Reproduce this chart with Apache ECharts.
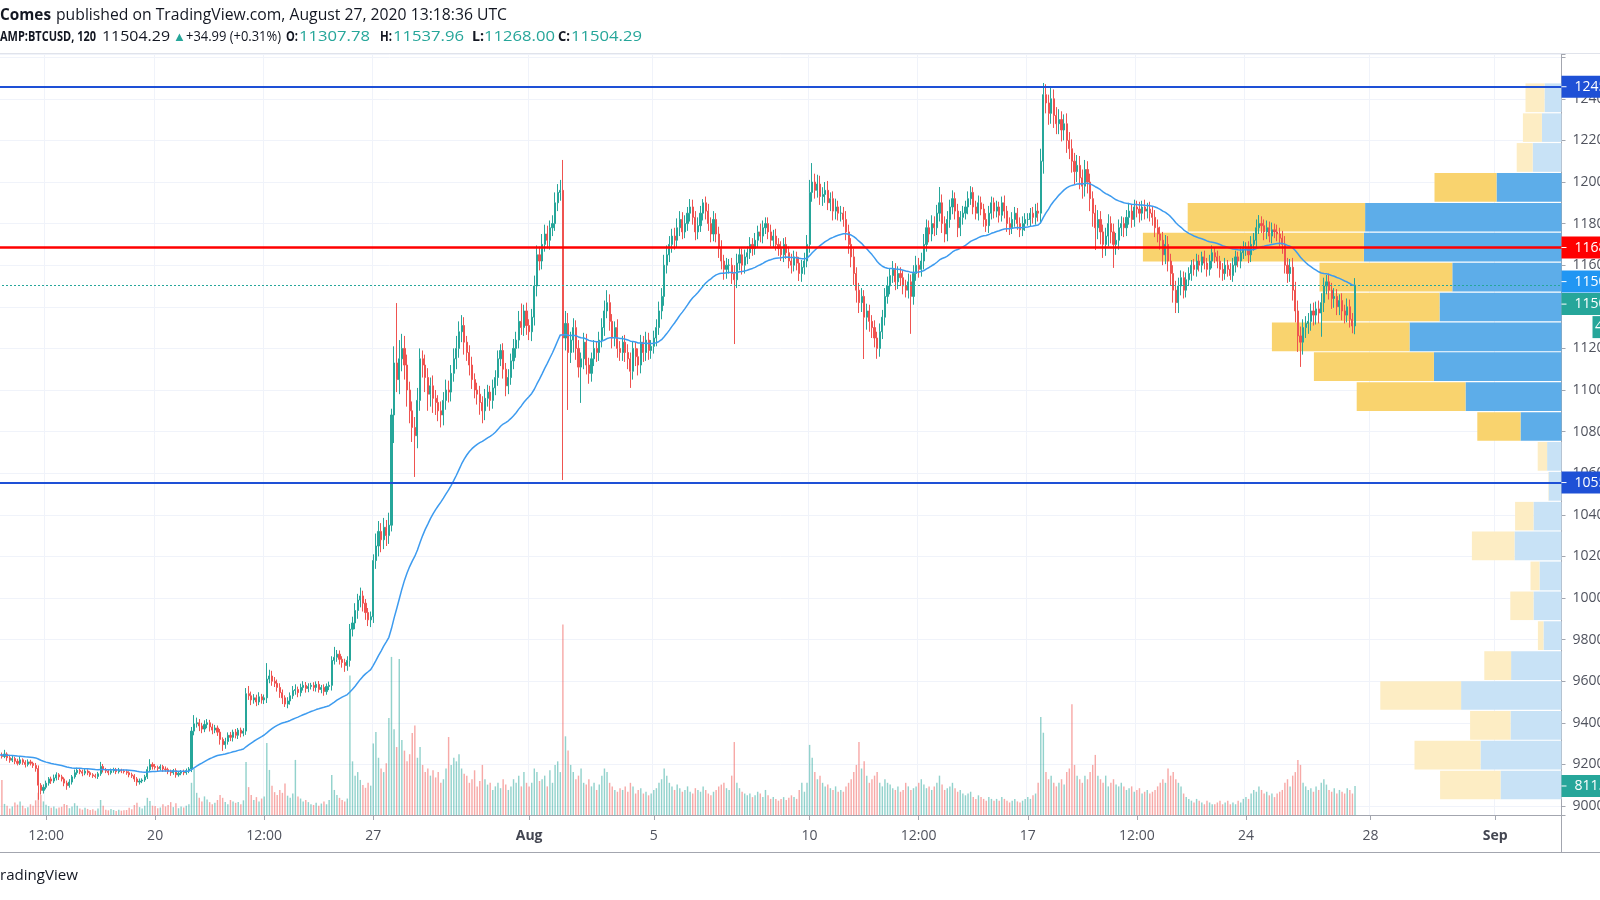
<!DOCTYPE html>
<html><head><meta charset="utf-8">
<script src="https://cdn.jsdelivr.net/npm/echarts@6/dist/echarts.min.js"></script>
<style>html,body{margin:0;padding:0;background:#fff;}#c{width:1600px;height:900px;}</style>
</head><body><div id="c"></div>
<script>
// ---------------- DATA ----------------
const firstOpen = 9240;
const closes = [
9245,9238,9250,9232,9220,9228,9215,9205,9222,9210,9200,9212,
9205,9195,9180,9100,9075,9090,9110,9130,9120,9135,9150,9140,
9130,9110,9098,9115,9140,9160,9172,9165,9158,9168,9160,9150,
9145,9142,9155,9190,9175,9168,9160,9170,9175,9165,9172,9168,
9165,9160,9150,9145,9130,9115,9120,9125,9140,9175,9200,9190,
9185,9180,9190,9178,9175,9165,9160,9170,9150,9158,9165,9160,
9170,9178,9360,9395,9400,9385,9370,9392,9400,9380,9365,9375,
9355,9320,9295,9310,9340,9330,9355,9340,9365,9350,9360,9540,
9530,9510,9520,9500,9525,9510,9520,9610,9625,9600,9590,9570,
9545,9520,9490,9505,9530,9555,9560,9545,9570,9580,9565,9575,
9580,9570,9585,9560,9570,9550,9575,9580,9700,9715,9730,9705,
9690,9675,9700,9850,9880,9940,9990,10010,9975,9930,9895,9910,
10180,10250,10320,10280,10340,10300,10350,10880,11130,11050,11150,11200,
11120,11000,10900,10820,10780,10950,11150,11120,11060,10980,11020,10960,
10940,10900,10880,10950,11000,10990,11080,11150,11200,11280,11310,11230,
11180,11120,11050,11000,10980,10940,10900,10960,10990,10950,11010,11060,
11150,11190,11100,11020,11060,11140,11200,11240,11330,11300,11380,11310,
11280,11350,11500,11650,11620,11700,11750,11720,11780,11800,11900,11950,
11960,11250,11320,11180,11240,11300,11200,11110,11150,11230,11120,11080,
11150,11200,11180,11240,11300,11380,11420,11330,11250,11300,11200,11180,
11230,11180,11150,11090,11200,11160,11120,11230,11180,11240,11190,11210,
11250,11300,11380,11450,11600,11650,11700,11740,11720,11780,11820,11760,
11800,11850,11880,11830,11760,11790,11850,11900,11860,11800,11750,11820,
11750,11680,11620,11580,11600,11600,11560,11530,11610,11650,11600,11640,
11660,11700,11680,11720,11760,11740,11780,11800,11760,11720,11740,11700,
11680,11650,11700,11660,11620,11600,11640,11610,11560,11590,11620,11700,
11950,12000,11960,11990,11930,11940,11960,11900,11920,11860,11880,11850,
11850,11820,11760,11700,11640,11560,11480,11420,11450,11350,11380,11330,
11300,11250,11200,11280,11350,11450,11500,11550,11580,11520,11560,11540,
11500,11480,11520,11450,11560,11600,11580,11620,11700,11780,11750,11800,
11780,11850,11900,11800,11750,11820,11880,11920,11860,11780,11830,11850,
11880,11920,11950,11880,11850,11900,11870,11820,11790,11850,11900,11860,
11880,11840,11900,11860,11800,11780,11820,11850,11800,11770,11800,11820,
11820,11850,11830,11860,11850,12100,12420,12380,12330,12400,12320,12280,
12300,12250,12280,12200,12160,12100,12050,12080,12020,11980,12060,12000,
11920,11850,11780,11820,11760,11700,11740,11800,11760,11700,11720,11780,
11800,11780,11830,11860,11820,11880,11870,11850,11880,11860,11870,11850,
11830,11780,11750,11720,11650,11700,11620,11560,11480,11420,11500,11540,
11480,11530,11560,11600,11580,11620,11600,11640,11610,11580,11620,11660,
11640,11620,11580,11560,11600,11580,11550,11600,11640,11620,11660,11680,
11680,11650,11700,11720,11780,11800,11790,11760,11780,11740,11770,11760,
11750,11730,11700,11600,11560,11590,11480,11380,11260,11230,11300,11320,
11330,11380,11360,11390,11370,11420,11500,11520,11480,11440,11450,11400,
11430,11380,11360,11400,11340,11307.78,11504.29];
// upper wick length above the body, per bar
const wickUp = [
15,12,20,8,10,14,9,12,18,7,10,12,
10,8,12,15,10,14,12,9,11,16,12,8,
10,8,12,14,9,15,12,8,10,12,9,7,
8,10,9,22,12,8,7,10,9,8,11,7,
8,9,7,10,8,9,12,8,10,15,25,10,
12,9,10,8,12,9,10,8,11,9,8,10,
10,9,20,42,25,18,15,20,18,14,16,15,
12,15,10,18,14,16,12,15,10,12,14,27,
37,20,18,15,22,14,16,77,30,25,20,18,
20,15,12,18,16,22,25,14,18,20,16,15,
12,15,14,16,12,15,14,18,20,50,20,18,
15,18,20,25,30,35,30,40,25,20,22,25,
30,60,50,40,45,35,60,30,80,288,90,70,
60,50,40,45,50,60,50,40,50,45,40,50,
40,35,45,40,50,45,40,50,60,50,50,40,
30,35,40,30,35,40,30,45,35,30,40,35,
40,30,35,30,40,35,45,40,50,86,30,40,
30,40,50,45,40,50,45,40,35,40,50,40,
50,146,60,50,40,45,35,40,30,45,40,35,
30,40,35,40,45,50,60,40,35,30,40,35,
30,35,40,30,35,30,40,35,30,40,35,30,
35,40,45,40,50,45,40,35,40,45,40,35,
40,30,38,35,30,40,35,18,30,35,30,40,
30,35,40,30,35,30,35,40,45,35,30,35,
30,35,30,35,30,40,35,30,30,35,30,35,
30,35,30,35,30,35,30,25,30,35,40,45,
60,91,40,45,40,35,40,45,30,35,40,30,
35,30,40,35,30,40,30,35,40,30,35,30,
30,35,30,40,35,40,45,35,40,30,35,30,
35,30,40,35,40,45,35,40,50,40,35,40,
35,40,76,40,35,40,35,40,30,35,30,35,
30,35,30,25,30,35,30,25,30,35,30,25,
30,25,30,35,25,30,35,30,25,30,35,30,
30,25,30,35,40,60,56,50,40,57,45,40,
50,40,45,50,40,45,40,50,45,40,46,40,
40,35,40,45,40,35,40,45,35,40,35,40,
35,30,35,40,30,35,30,35,30,35,30,35,
30,35,40,35,40,45,40,35,40,45,40,35,
30,35,30,25,30,35,30,25,30,25,30,35,
25,30,25,30,35,25,30,35,30,25,30,35,
30,35,40,35,40,41,35,30,35,30,35,30,
35,30,35,40,35,40,45,40,50,45,40,35,
40,35,40,35,40,45,40,33,40,35,40,35,
30,35,30,40,35,30,33.67];
// lower wick length below the body, per bar
const wickDown = [
12,10,8,15,12,9,14,10,8,12,15,10,
10,12,15,70,20,15,10,12,14,10,12,15,
12,15,20,10,12,9,10,12,15,10,12,10,
10,9,12,10,14,10,12,9,10,12,9,10,
9,10,12,10,14,18,12,10,9,10,12,15,
10,12,9,14,10,12,15,10,14,9,10,12,
10,12,15,20,18,25,20,15,18,22,20,15,
18,25,30,20,15,18,20,15,18,20,15,18,
20,25,18,20,15,18,20,25,20,22,18,20,
25,30,14,20,18,15,20,22,18,15,20,18,
15,18,20,15,18,20,15,18,25,20,22,25,
25,30,25,30,35,30,40,35,40,35,30,35,
30,40,50,60,45,50,40,30,135,60,70,60,
70,80,60,70,198,60,50,60,70,80,60,70,
60,50,60,50,45,50,45,40,50,45,50,60,
40,50,45,40,50,59,60,45,40,50,40,35,
40,35,45,50,40,35,40,45,40,35,40,45,
40,45,40,50,45,40,35,40,45,40,35,40,
40,683,60,276,50,60,55,50,172,50,45,50,
40,35,45,40,35,40,35,45,50,40,45,40,
40,45,50,80,40,45,50,40,45,40,45,40,
35,40,35,40,45,40,35,40,45,35,40,35,
30,35,40,35,40,35,30,35,40,35,40,35,
40,45,40,50,45,40,50,309,40,35,45,40,
35,30,35,30,35,30,35,30,35,30,35,30,
35,30,35,30,35,40,30,35,36,40,35,30,
40,45,40,35,40,45,40,35,40,45,40,35,
40,35,40,45,50,55,60,50,45,201,60,50,
50,45,50,40,35,40,35,40,35,40,35,40,
40,35,40,180,40,35,40,35,40,35,40,35,
40,35,40,45,40,35,40,35,40,45,40,35,
30,35,30,35,30,35,30,35,30,35,30,35,
30,35,30,35,40,35,30,35,30,35,30,35,
30,35,30,35,40,50,60,50,55,50,60,50,
50,55,50,60,50,55,60,50,55,60,50,55,
60,65,107,55,60,65,55,50,55,113,50,45,
40,45,40,35,40,35,40,45,35,40,35,40,
40,45,40,45,50,45,50,55,60,50,50,45,
40,35,30,35,30,35,30,35,30,35,30,35,
30,35,40,35,30,35,21,30,35,30,35,30,
35,40,35,30,35,30,35,40,35,30,35,30,
35,40,45,40,45,40,50,55,77,119,60,50,
50,45,50,45,50,114,45,40,45,50,45,40,
40,45,40,35,40,35,39.78];
const volumes = [
420,980,310,260,180,240,350,290,380,260,190,220,
300,260,410,620,560,380,290,250,200,240,180,210,
230,310,280,190,240,330,260,180,150,200,170,140,
160,120,180,420,260,150,130,170,140,110,150,120,
130,140,200,160,280,340,220,180,260,480,390,260,
250,190,210,300,240,280,360,220,330,190,240,210,
260,300,900,1290,620,480,380,520,430,360,300,340,
420,560,480,360,300,420,380,340,360,300,410,1480,
780,560,420,500,380,460,520,2010,1260,820,640,560,
700,620,880,540,480,600,1540,520,460,380,420,360,
300,280,340,260,320,380,300,420,1120,700,560,480,
420,380,460,3900,1500,1100,1200,980,840,760,900,820,
2000,2320,1600,1300,1200,1450,2710,4420,2400,1900,4360,2100,
1800,1500,1700,2290,2500,1600,1900,1400,1200,1300,1100,1250,
1050,1200,900,1000,1300,2180,1400,1600,1500,1700,1300,1150,
1100,900,1000,1250,800,950,1400,1000,850,900,700,800,
900,750,1000,850,700,800,1000,900,1100,800,1200,900,
800,900,1300,1200,950,1000,1100,800,1250,900,1400,1500,
1200,5327,2200,1800,1400,1200,1000,1100,1300,900,850,1000,
800,900,700,850,1100,1300,1200,900,800,700,650,750,
700,800,650,900,800,600,700,750,600,650,550,600,
700,750,900,1000,1300,1100,900,800,700,850,750,650,
700,800,650,600,750,700,650,800,700,600,550,650,
700,800,850,900,750,700,1100,2040,900,750,650,600,
550,600,500,550,650,600,500,700,550,450,500,450,
400,450,500,420,480,550,500,450,700,900,650,900,
1960,1600,1200,1000,1100,900,800,850,750,700,800,650,
700,650,800,900,1000,1200,1400,2040,1300,1500,1100,900,
1000,1100,1200,900,800,1000,900,850,750,700,800,650,
700,900,800,700,750,800,900,1000,850,750,800,700,
800,900,1100,850,700,750,800,900,750,650,700,600,
550,600,650,500,450,550,500,450,400,500,450,400,
450,400,500,450,400,350,400,450,380,350,400,450,
500,450,550,600,900,2740,2300,1200,1000,1100,900,800,
900,1000,850,1200,1300,3100,1400,1100,1000,900,1100,1000,
1200,1400,1680,1100,1000,900,1100,800,900,1000,850,800,
900,800,700,750,800,650,700,750,600,650,700,600,
650,700,800,900,1000,900,1300,1100,1200,1000,900,800,
600,500,450,400,350,450,400,350,300,400,350,300,
300,350,400,300,350,400,300,350,300,400,350,450,
500,450,600,700,650,800,700,600,650,550,600,500,
600,650,700,900,1000,800,1100,1200,1540,1400,900,800,
700,750,650,800,700,900,1000,850,700,650,750,600,
700,650,600,750,700,600,811];

const emaPeriod = 50;
const startTime = Date.UTC(2020, 6, 15, 0, 0);   // first 2h bar
const slotCount = 602;                           // 2h slots shown on the time axis
const xTickTimes = ['2020-07-16T12:00','2020-07-20T00:00','2020-07-23T12:00','2020-07-27T00:00','2020-08-01T00:00','2020-08-05T00:00','2020-08-10T00:00','2020-08-13T12:00','2020-08-17T00:00','2020-08-20T12:00','2020-08-24T00:00','2020-08-28T00:00','2020-09-01T00:00'];
const xTickLabels = ['12:00','20','12:00','27','Aug','5','10','12:00','17','12:00','24','28','Sep'];
const monthLabels = ['Aug','Sep'];
const priceLabelMax = 12400;

const levelTop = 12458, levelRed = 11685, levelBottom = 10555;
const countdownText = '41:24';
const lastVolumeText = '811.37';

// visible volume profile rows (top to bottom)
const profileTop = 12477;
const profileLows = [12333,12190,12046,11902,11759,11615,11471,11328,11184,11040,10896,10753,10609,10465,10322,10178,10034,9891,9747,9603,9460,9316,9172,9029];
const profileUp   = [425,490,720,1625,4910,4940,2730,3050,3800,3190,2400,1025,360,320,700,1175,550,700,450,1260,2510,1275,2025,1525];
const profileDown = [475,475,400,1550,4435,5525,3320,2950,3440,3000,2720,1080,235,10,460,1065,225,580,140,670,2020,1010,1650,1510];
const profileValueArea = [0,0,0,1,1,1,1,1,1,1,1,1,0,0,0,0,0,0,0,0,0,0,0,0];

// header texts
const headerLine1Bold = 'Comes';
const headerLine1 = 'published on TradingView.com, August 27, 2020 13:18:36 UTC';
const symbolText = 'AMP:BTCUSD, 120';
const lastPriceText = '11504.29';
const changeText = '+34.99 (+0.31%)';
const ohlcKeys = ['O:', 'H:', 'L:', 'C:'];
const ohlcValues = ['11307.78', '11537.96', '11268.00', '11504.29'];

// ---------------- BUILD ----------------
const categories = [];
for (let i = 0; i < slotCount; i++) categories.push(new Date(startTime + i * 7200000).toISOString().slice(0, 16));
const tickIndex = {};
xTickTimes.forEach((t, k) => { tickIndex[categories.indexOf(t)] = xTickLabels[k]; });

const ohlc = closes.map((c, i) => {
  const o = i === 0 ? firstOpen : closes[i - 1];
  return [o, c, Math.min(o, c) - wickDown[i], Math.max(o, c) + wickUp[i]];
});
// exponential moving average of the closes
const ema = [];
{
  const k = 2 / (emaPeriod + 1);
  let e = closes[0];
  closes.forEach((c, i) => { e = i === 0 ? c : c * k + e * (1 - k); ema.push(+e.toFixed(2)); });
}
const profileData = profileLows.map((lo, k) => [lo, k === 0 ? profileTop : profileLows[k - 1], profileUp[k], profileDown[k], profileValueArea[k]]);

const UP = '#26A69A', DOWN = '#EF5350';
const FONT = '"Open Sans", "Noto Sans", sans-serif';
const GRID_TOP = 54, GRID_BOTTOM_Y = 815, RIGHT = 38.5;
const PMIN = 8956.7, PMAX = 12615.4;

const chart = echarts.init(document.getElementById('c'), null, { renderer: 'canvas' });
const isTick = (idx) => tickIndex[idx] !== undefined;

chart.setOption({
  animation: false,
  backgroundColor: '#ffffff',
  grid: [
    { left: -2, right: RIGHT, top: GRID_TOP, bottom: 900 - GRID_BOTTOM_Y, containLabel: false, outerBoundsMode: 'none' },
    { left: 0, right: RIGHT, top: GRID_TOP, bottom: 900 - GRID_BOTTOM_Y, containLabel: false, outerBoundsMode: 'none' }
  ],
  xAxis: [
    { type: 'category', gridIndex: 0, data: categories, boundaryGap: true,
      axisLine: { lineStyle: { color: '#A3A6AF', width: 1 } },
      axisTick: { show: true, alignWithLabel: true, interval: (i) => isTick(i), length: 5, lineStyle: { color: '#A3A6AF' } },
      axisLabel: { interval: (i) => isTick(i), margin: 14, fontSize: 14, fontFamily: FONT, color: '#50535E', hideOverlap: false,
        formatter: (v, i) => { const t = tickIndex[i]; if (t === undefined) return ''; return monthLabels.includes(t) ? '{m|' + t + '}' : t; },
        rich: { m: { fontWeight: 'bold', fontSize: 14, fontFamily: FONT, color: '#434651' } } },
      splitLine: { show: true, interval: (i) => isTick(i), lineStyle: { color: '#F0F3FA', width: 1 } }
    },
    { type: 'value', gridIndex: 1, inverse: true, min: 0, max: (1600 - RIGHT) * 25, show: false }
  ],
  yAxis: [
    { type: 'value', gridIndex: 0, position: 'right', min: PMIN, max: PMAX, splitNumber: 18, scale: true,
      axisLine: { show: true, lineStyle: { color: '#A3A6AF' } },
      axisTick: { show: true, length: 4, lineStyle: { color: '#A3A6AF' } },
      axisLabel: { margin: 11, fontSize: 14, fontFamily: FONT, color: '#50535E', hideOverlap: false,
        formatter: (v) => (Math.abs(v % 200) < 1e-6 && v <= priceLabelMax ? String(v) : '') },
      splitLine: { show: true, lineStyle: { color: '#F0F3FA', width: 1 } }
    },
    { type: 'value', gridIndex: 0, min: 0, max: (GRID_BOTTOM_Y - GRID_TOP) * 27.96, show: false },
    { type: 'value', gridIndex: 1, min: PMIN, max: PMAX, show: false }
  ],
  series: [
    { type: 'custom', name: 'profile', xAxisIndex: 1, yAxisIndex: 2, z: 1, silent: true,
      data: profileData,
      renderItem: function (params, api) {
        const lo = api.value(0), hi = api.value(1), up = api.value(2), dn = api.value(3), va = api.value(4);
        const a = api.coord([0, hi]), b = api.coord([up, lo]), c = api.coord([up + dn, lo]);
        const yT = a[1] + 0.6, yB = b[1] - 0.6;
        const blue = va ? '#5DADE9' : '#C8E2F6', yellow = va ? '#F9D36E' : '#FDEDC4';
        return { type: 'group', children: [
          { type: 'rect', shape: { x: b[0], y: yT, width: a[0] - b[0], height: yB - yT }, style: { fill: blue } },
          { type: 'rect', shape: { x: c[0], y: yT, width: b[0] - c[0], height: yB - yT }, style: { fill: yellow } }
        ] };
      }
    },
    { type: 'bar', name: 'volume', xAxisIndex: 0, yAxisIndex: 1, z: 2, barWidth: '55%',
      data: volumes.map((v, i) => ({ value: v, itemStyle: { color: ohlc[i][1] >= ohlc[i][0] ? 'rgba(38,166,154,0.5)' : 'rgba(239,83,80,0.5)' } }))
    },
    { type: 'candlestick', name: 'BTCUSD', xAxisIndex: 0, yAxisIndex: 0, z: 3, barWidth: '62%',
      data: ohlc,
      itemStyle: { color: UP, color0: DOWN, borderColor: UP, borderColor0: DOWN, borderWidth: 1 },
      markLine: { symbol: ['none', 'none'], silent: true, animation: false, label: { show: false },
        data: [
          { yAxis: levelTop, lineStyle: { color: '#1E50D6', width: 2, type: 'solid' } },
          { yAxis: levelRed, lineStyle: { color: '#FF0000', width: 2.5, type: 'solid' } },
          { yAxis: levelBottom, lineStyle: { color: '#1E50D6', width: 2, type: 'solid' } },
          { yAxis: closes[closes.length - 1], lineStyle: { color: UP, width: 1, type: [2, 2] } }
        ] }
    },
    { type: 'line', name: 'EMA', xAxisIndex: 0, yAxisIndex: 0, z: 4, data: ema, showSymbol: false, symbol: 'none',
      lineStyle: { color: '#3D9BEF', width: 1.5 } }
  ]
});

// ---------------- labels, header, frame ----------------
const yP = (v) => chart.convertToPixel({ yAxisIndex: 0 }, v);
const yV = (v) => chart.convertToPixel({ yAxisIndex: 1 }, v);
const AX = 1561.5;
function tag(yc, text, color, x0) {
  const x = x0 || AX;
  return [
    { type: 'rect', z: 100, shape: { x: x, y: yc - 11, width: 80, height: 22 }, style: { fill: color } },
    { type: 'line', z: 101, shape: { x1: x, y1: yc, x2: x + 5, y2: yc }, style: { stroke: '#ffffff', lineWidth: 1 } },
    { type: 'text', z: 101, x: x + 13, y: yc, style: { text: text, fill: '#ffffff', fontSize: 14, fontFamily: FONT, verticalAlign: 'middle', align: 'left' } }
  ];
}
const lastClose = closes[closes.length - 1];
const lastEma = ema[ema.length - 1];
const maY = yP(lastClose) - 3.5;
const closeY = maY + 22.5;
let g = [];
g = g.concat(tag(yP(levelTop), String(levelTop), '#1E50D6'));
g = g.concat(tag(yP(levelRed), String(levelRed), '#FF0000'));
g = g.concat(tag(maY, lastEma.toFixed(2), '#2196F3'));
g = g.concat(tag(closeY, lastClose.toFixed(2), UP));
g.push({ type: 'rect', z: 100, shape: { x: 1592.5, y: closeY + 12, width: 20, height: 22 }, style: { fill: UP } });
g.push({ type: 'text', z: 101, x: 1595, y: closeY + 23, style: { text: countdownText, fill: '#fff', fontSize: 14, fontFamily: FONT, verticalAlign: 'middle' } });
g = g.concat(tag(yP(levelBottom), String(levelBottom), '#1E50D6'));
g = g.concat(tag(yV(volumes[volumes.length - 1]), lastVolumeText, UP));

// frame lines
g.push({ type: 'line', z: 90, shape: { x1: 0, y1: GRID_TOP - 0.5, x2: 1600, y2: GRID_TOP - 0.5 }, style: { stroke: '#E0E3EB', lineWidth: 1 } });
g.push({ type: 'line', z: 90, shape: { x1: 0, y1: 852.5, x2: 1600, y2: 852.5 }, style: { stroke: '#A3A6AF', lineWidth: 1 } });
g.push({ type: 'line', z: 90, shape: { x1: AX, y1: GRID_BOTTOM_Y, x2: AX, y2: 852.5 }, style: { stroke: '#A3A6AF', lineWidth: 1 } });

// header (each piece fitted to the width it takes in the reference)
const mctx = document.createElement('canvas').getContext('2d');
function htext(x, y, text, opt, fitWidth) {
  const st = Object.assign({ text: text, fill: '#131722', fontSize: 15, fontFamily: FONT, fontWeight: 'normal', verticalAlign: 'middle' }, opt || {});
  const el = { type: 'text', z: 110, x: x, y: y, style: st };
  if (fitWidth) {
    mctx.font = st.fontWeight + ' ' + st.fontSize + 'px ' + FONT;
    const w = mctx.measureText(text).width;
    if (w > 0) el.scaleX = fitWidth / w;
  }
  return el;
}
g.push(htext(0, 15.5, headerLine1Bold, { fontWeight: 'bold', fontSize: 15.5 }, 51));
g.push(htext(56, 15.5, headerLine1, { fontSize: 15.8 }, 451));
g.push(htext(0, 37, symbolText, { fontWeight: 'bold', fontSize: 15 }, 96));
g.push(htext(102, 37, lastPriceText, {}, 68));
g.push(htext(173, 37, '▲', { fill: UP, fontSize: 13 }));
g.push(htext(186, 37, changeText, {}, 95));
const keyX = [286, 380, 472, 558], valX = [299, 393, 484, 571];
ohlcKeys.forEach((k, i) => {
  g.push(htext(keyX[i], 37, k, { fontWeight: 'bold' }, 12));
  g.push(htext(valX[i], 37, ohlcValues[i], { fill: UP }, 71));
});
g.push(htext(0, 876, 'radingView', { fontSize: 15 }, 78));

chart.setOption({ graphic: { elements: g } });
</script>
</body></html>
